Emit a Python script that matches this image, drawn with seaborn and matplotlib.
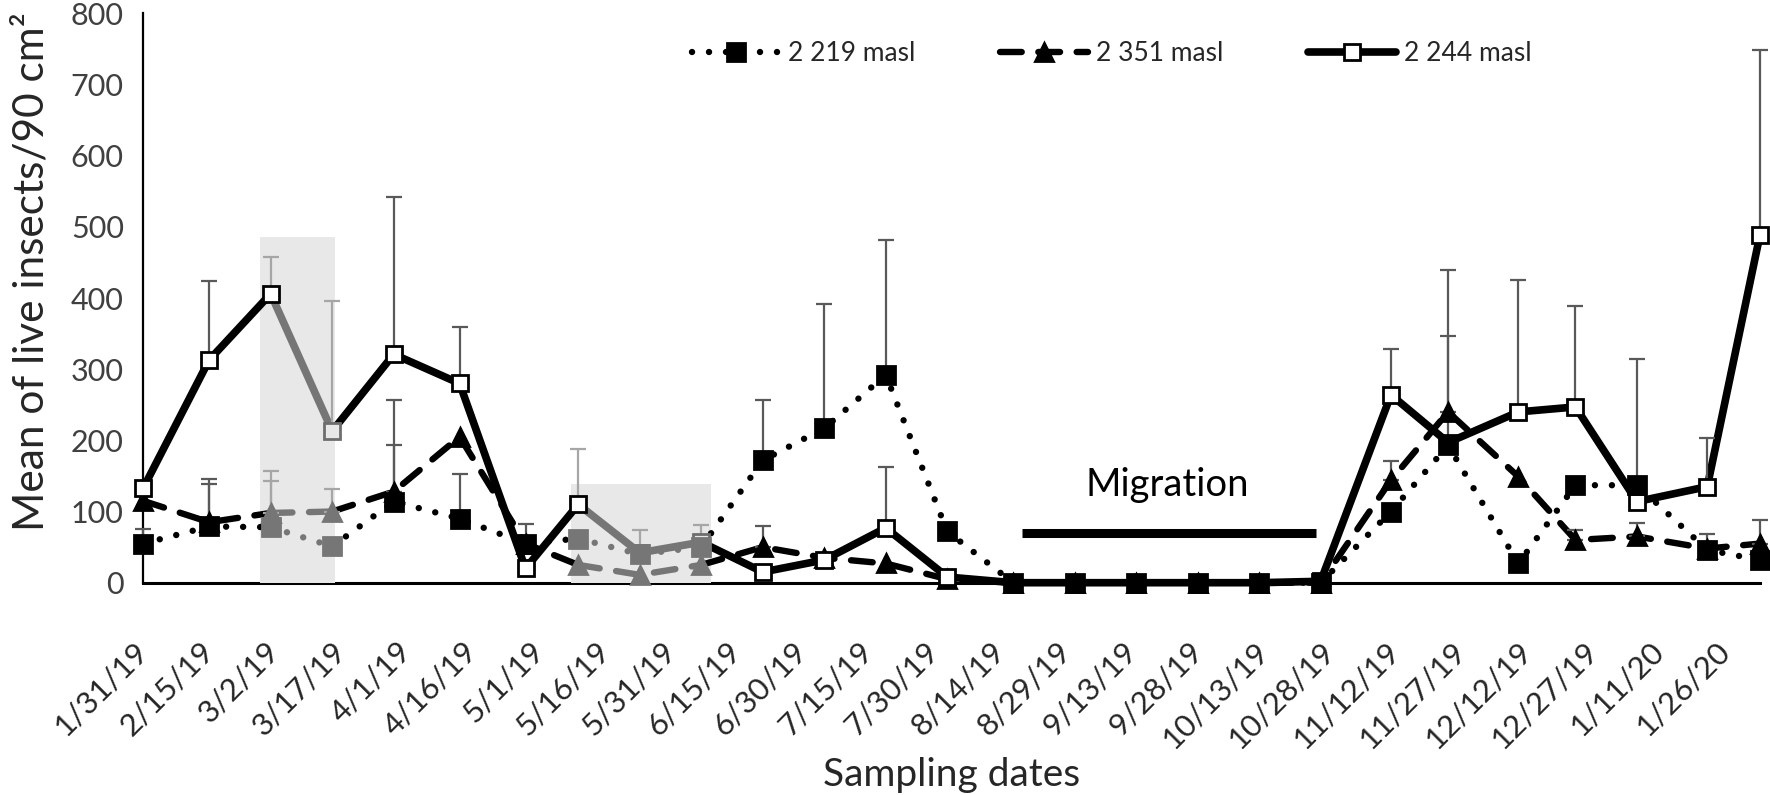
import numpy as np
import pandas as pd
import matplotlib
matplotlib.use("Agg")
import matplotlib.pyplot as plt
from matplotlib.lines import Line2D
from matplotlib.patches import Rectangle
import seaborn as sns

# sampling dates (irregular, ~every 14-15 days)
sample_dates = ["2019-01-31", "2019-02-15", "2019-03-01", "2019-03-15", "2019-03-29",
                "2019-04-13", "2019-04-28", "2019-05-10", "2019-05-24", "2019-06-07",
                "2019-06-21", "2019-07-05", "2019-07-19", "2019-08-02", "2019-08-17",
                "2019-08-31", "2019-09-14", "2019-09-28", "2019-10-12", "2019-10-26",
                "2019-11-11", "2019-11-24", "2019-12-10", "2019-12-23", "2020-01-06",
                "2020-01-22", "2020-02-03"]

# mean of live insects per site
mean_2219 = [55, 79, 78, 51, 114, 90, 55, 62, 40, 50, 172, 217, 292, 72, 0, 0, 0, 0, 0, 0,
             100, 193, 27, 137, 137, 46, 32]
mean_2351 = [115, 85, 98, 100, 128, 205, 55, 25, 11, 25, 50, 35, 27, 5, 0, 0, 0, 0, 0, 0,
             144, 240, 149, 60, 65, 48, 55]
mean_2244 = [133, 313, 406, 213, 321, 280, 20, 110, 42, 57, 15, 32, 77, 8, 0, 0, 0, 0, 0, 2,
             264, 197, 240, 247, 114, 135, 489]

# upper error bars (0 = none drawn)
err_2219 = [21, 67, 79, 0, 80, 63, 28, 0, 0, 0, 85, 175, 190, 0, 0, 0, 0, 0, 0, 0,
            0, 0, 0, 0, 0, 22, 0]
err_2351 = [0, 54, 45, 31, 129, 0, 0, 0, 0, 0, 29, 0, 0, 0, 0, 0, 0, 0, 0, 0,
            27, 106, 0, 14, 19, 0, 33]
err_2244 = [0, 111, 52, 183, 221, 80, 0, 78, 32, 24, 0, 0, 86, 0, 0, 0, 0, 0, 0, 0,
            64, 243, 186, 142, 200, 69, 259]

series_labels = ["2 219 masl", "2 351 masl", "2 244 masl"]

# shaded periods (start, end, top)
shade_start = ["2019-02-26 14:00", "2019-05-08 07:00"]
shade_end = ["2019-03-15 14:00", "2019-06-09 05:00"]
shade_top = [486, 138]

# migration bar
migration_start = "2019-08-19"
migration_end = "2019-10-25"
migration_level = 70
migration_text_date = "2019-09-21"
migration_text_level = 137

first_tick = "2019-01-31"
n_ticks = 25
tick_step_days = 15

dates = pd.to_datetime(sample_dates)
tick_dates = pd.date_range(first_tick, periods=n_ticks, freq=f"{tick_step_days}D")
tick_labels = [f"{d.month}/{d.day}/{d.strftime('%y')}" for d in tick_dates]

sns.set_theme(style="white")
plt.rcParams["font.family"] = ["Lato", "DejaVu Sans"]

fig = plt.figure(figsize=(17.7, 7.95), dpi=100)
ax = fig.add_axes([0.08096, 0.26704, 0.91339, 0.71610])

GREY_LINE = "#767676"
GREY_ERR = "#a6a6a6"
ERR = "#595959"

starts = pd.to_datetime(shade_start)
ends = pd.to_datetime(shade_end)
for s, e, top in zip(starts, ends, shade_top):
    ax.add_patch(Rectangle((s, 0), e - s, top, facecolor="#e8e8e8", edgecolor="none", zorder=2.6))

in_box = np.zeros(len(dates), dtype=bool)
for s, e in zip(starts, ends):
    in_box |= (dates >= s) & (dates <= e)
# point whose incoming segment lies in a shaded period
after_box = in_box & np.r_[False, in_box[:-1]]

styles = {
    "2 219 masl": dict(ls=(0, (0.01, 2.65)), lw=4.6, marker="s", ms=13, mfc="black", mec="black"),
    "2 351 masl": dict(ls=(0, (3.4, 2.6)), lw=4.6, marker="^", ms=13, mfc="black", mec="black"),
    "2 244 masl": dict(ls="-", lw=5.5, marker="s", ms=12, mfc="white", mec="black"),
}
means = dict(zip(series_labels, [mean_2219, mean_2351, mean_2244]))
errs = dict(zip(series_labels, [err_2219, err_2351, err_2244]))
z_line = {"2 351 masl": 3.0, "2 219 masl": 3.1, "2 244 masl": 3.2}
z_mark = {"2 351 masl": 4.0, "2 244 masl": 4.1, "2 219 masl": 4.2}

for lab in ["2 351 masl", "2 219 masl", "2 244 masl"]:
    st = styles[lab]
    vals = np.array(means[lab], dtype=float)
    seg_grey = in_box[:-1] & in_box[1:]
    i = 0
    while i < len(vals) - 1:
        j = i
        while j < len(vals) - 1 and seg_grey[j] == seg_grey[i]:
            j += 1
        seg = pd.DataFrame({"date": dates[i:j + 1], "val": vals[i:j + 1]})
        sns.lineplot(data=seg, x="date", y="val", ax=ax, errorbar=None,
                     color=GREY_LINE if seg_grey[i] else "black",
                     linestyle=st["ls"], linewidth=st["lw"],
                     dash_capstyle="round", solid_capstyle="round",
                     solid_joinstyle="round", zorder=z_line[lab], clip_on=False)
        i = j

    # error bars (upper only)
    e = np.array(errs[lab], dtype=float)
    has = e > 0
    for grey in (False, True):
        m = has & (in_box == grey)
        if m.any():
            ax.errorbar(dates[m], vals[m], yerr=[np.zeros(m.sum()), e[m]], fmt="none",
                        ecolor=GREY_ERR if grey else ERR, elinewidth=1.6, capsize=6,
                        capthick=1.6, zorder=3.5, clip_on=False)

    # markers
    grey_pts = after_box if lab == "2 244 masl" else in_box
    for grey in (False, True):
        m = grey_pts == grey
        if lab == "2 244 masl":
            fc, ec = ("#e8e8e8", "#6e6e6e") if grey else ("white", "black")
        else:
            fc = ec = (GREY_LINE if grey else "black")
        ax.plot(dates[m], vals[m], linestyle="none", marker=st["marker"], ms=st["ms"],
                mfc=fc, mec=ec, mew=2, zorder=z_mark[lab], clip_on=False)

# migration period
ax.plot(pd.to_datetime([migration_start, migration_end]), [migration_level, migration_level],
        color="black", lw=6.5, solid_capstyle="butt", zorder=3)
ax.text(pd.to_datetime(migration_text_date), migration_text_level, "Migration",
        ha="center", va="center", fontsize=27.5, color="black")

ax.set_xlim(pd.to_datetime(first_tick), dates[-1])
ax.set_ylim(0, 800)
ax.set_yticks(range(0, 801, 100))
ax.set_xticks(tick_dates)
ax.set_xticklabels(tick_labels, rotation=45, ha="right", va="center", rotation_mode="anchor")
ax.tick_params(axis="x", length=0, pad=46, labelsize=22.5, labelcolor="#262626")
ax.tick_params(axis="y", length=0, pad=14, labelsize=22, labelcolor="#404040")

for side in ["top", "right"]:
    ax.spines[side].set_visible(False)
ax.spines["left"].set_color("black")
ax.spines["left"].set_linewidth(1.6)
ax.spines["bottom"].set_color("black")
ax.spines["bottom"].set_linewidth(2.2)

ax.set_xlabel("Sampling dates", fontsize=28, color="#262626", va="center")
ax.xaxis.set_label_coords(0.5, -0.337)
ax.set_ylabel("Mean of live insects/90 cm²", fontsize=30.5, color="#262626", va="center")
ax.yaxis.set_label_coords(-0.069, 0.546)

handles = []
for lab in series_labels:
    st = styles[lab]
    handles.append(Line2D([], [], color="black", linestyle=st["ls"], linewidth=st["lw"],
                          dash_capstyle="round", solid_capstyle="round",
                          marker=st["marker"], ms=st["ms"], mfc=st["mfc"], mec=st["mec"], mew=2))
ax.legend(handles, series_labels, ncol=3, frameon=False, loc="center",
          bbox_to_anchor=(0.599, 0.93), fontsize=19, handlelength=3.35,
          handletextpad=0.3, columnspacing=3.2, labelcolor="#262626")

fig.savefig("out.png", dpi=100)
